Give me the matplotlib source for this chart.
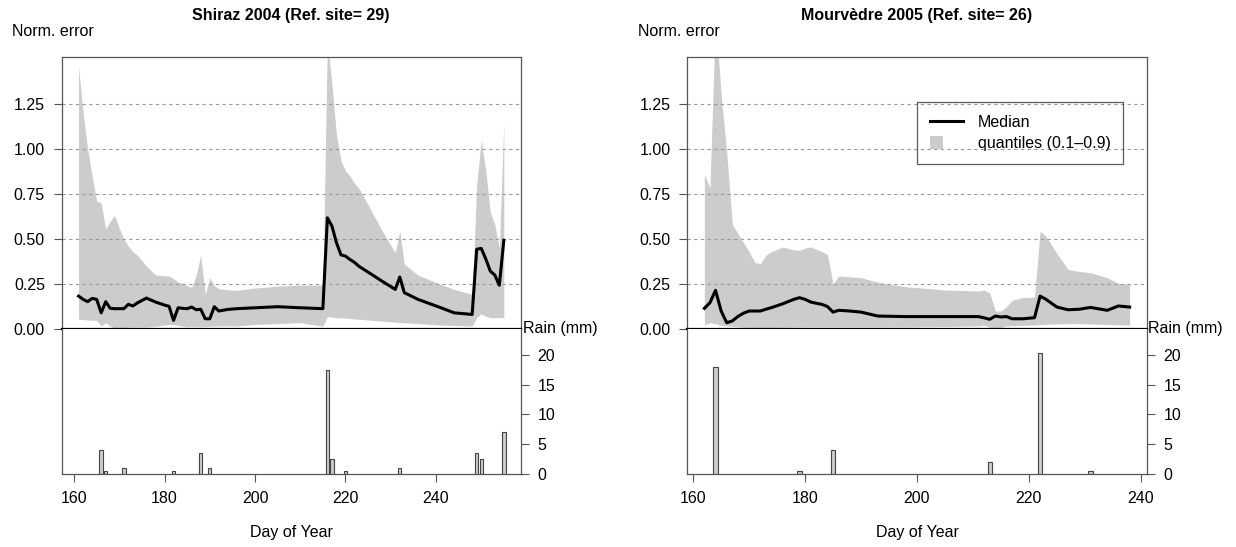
import matplotlib
matplotlib.use('Agg')
import matplotlib.pyplot as plt
from matplotlib.lines import Line2D
from matplotlib.patches import Rectangle
from matplotlib.legend_handler import HandlerPatch
import numpy as np

plt.rcParams['font.family'] = ['Liberation Sans', 'DejaVu Sans']
plt.rcParams['font.size'] = 11.5

# Shiraz 2004 - normalised error (median and 0.1-0.9 quantiles)
shirazDays = [161, 162, 163, 164, 165, 166, 167, 168, 169, 170, 171, 172, 173, 174, 176, 178,
              180, 181, 182, 183, 184, 185, 186, 187, 188, 189, 190, 191, 192, 194, 196, 200,
              205, 210, 215, 216, 217, 218, 219, 220, 221, 222, 223, 225, 228, 231, 232, 233,
              236, 241, 244, 248, 249, 250, 251, 252, 253, 254, 255]
shirazMedian = [0.183, 0.165, 0.152, 0.17, 0.165, 0.09, 0.152, 0.115, 0.113, 0.113, 0.113, 0.137,
                0.128, 0.145, 0.172, 0.15, 0.133, 0.126, 0.048, 0.118, 0.115, 0.113, 0.122, 0.107,
                0.11, 0.057, 0.057, 0.124, 0.1, 0.109, 0.113, 0.118, 0.124, 0.118, 0.113, 0.618,
                0.572, 0.48, 0.412, 0.405, 0.386, 0.37, 0.348, 0.316, 0.267, 0.22, 0.289, 0.202,
                0.165, 0.119, 0.09, 0.081, 0.443, 0.448, 0.39, 0.322, 0.30, 0.243, 0.493]
shirazUpper = [1.46, 1.2, 1.0, 0.85, 0.711, 0.70, 0.554, 0.6, 0.63, 0.56, 0.5, 0.46, 0.43, 0.41,
               0.35, 0.30, 0.296, 0.294, 0.28, 0.26, 0.255, 0.24, 0.23, 0.3, 0.411, 0.193, 0.285,
               0.24, 0.225, 0.218, 0.215, 0.228, 0.238, 0.244, 0.244, 1.6, 1.36, 1.08, 0.933, 0.88,
               0.85, 0.81, 0.78, 0.69, 0.55, 0.424, 0.544, 0.36, 0.30, 0.248, 0.22, 0.193, 0.8,
               1.048, 0.88, 0.65, 0.581, 0.45, 1.146]
shirazLower = [0.054, 0.052, 0.05, 0.049, 0.048, 0.017, 0.035, 0.015, 0.005, 0.006, 0.008, 0.01,
               0.01, 0.011, 0.011, 0.015, 0.022, 0.026, 0.024, 0.02, 0.016, 0.013, 0.013, 0.013,
               0.013, 0.014, 0.015, 0.016, 0.017, 0.017, 0.017, 0.025, 0.03, 0.035, 0.015, 0.069,
               0.066, 0.063, 0.063, 0.06, 0.058, 0.056, 0.054, 0.05, 0.044, 0.038, 0.036, 0.035,
               0.03, 0.022, 0.019, 0.017, 0.063, 0.085, 0.07, 0.063, 0.063, 0.063, 0.063]
shirazRainDays = [166, 167, 171, 182, 188, 190, 216, 217, 220, 232, 249, 250, 255]
shirazRain = [4.0, 0.5, 1.0, 0.5, 3.5, 1.0, 17.5, 2.5, 0.5, 1.0, 3.5, 2.5, 7.0]

# Mourvedre 2005
mourvDays = [162, 163, 164, 165, 166, 167, 168, 169, 170, 171, 172, 173, 174, 176, 178, 179,
             180, 181, 182, 183, 184, 185, 186, 188, 190, 193, 198, 205, 211, 212, 213, 214,
             215, 216, 217, 219, 221, 222, 223, 225, 227, 229, 231, 234, 236, 238]
mourvMedian = [0.115, 0.146, 0.215, 0.1, 0.035, 0.045, 0.07, 0.088, 0.1, 0.1, 0.1, 0.11, 0.119,
               0.14, 0.165, 0.174, 0.165, 0.15, 0.143, 0.137, 0.125, 0.094, 0.104, 0.1, 0.094,
               0.072, 0.069, 0.069, 0.069, 0.062, 0.054, 0.072, 0.067, 0.069, 0.057, 0.057, 0.063,
               0.183, 0.166, 0.122, 0.107, 0.11, 0.12, 0.104, 0.128, 0.122]
mourvUpper = [0.859, 0.785, 1.75, 1.3, 0.98, 0.58, 0.53, 0.48, 0.43, 0.37, 0.363, 0.41, 0.43,
              0.456, 0.44, 0.437, 0.45, 0.456, 0.443, 0.43, 0.415, 0.25, 0.294, 0.29, 0.285,
              0.26, 0.235, 0.217, 0.211, 0.216, 0.2, 0.1, 0.1, 0.125, 0.16, 0.175, 0.178, 0.544,
              0.517, 0.42, 0.331, 0.32, 0.313, 0.285, 0.254, 0.248]
mourvLower = [0.022, 0.035, 0.03, 0.02, 0.017, 0.015, 0.012, 0.01, 0.008, 0.008, 0.007, 0.007,
              0.008, 0.009, 0.01, 0.01, 0.011, 0.011, 0.011, 0.011, 0.011, 0.011, 0.011, 0.011,
              0.011, 0.011, 0.012, 0.014, 0.017, 0.02, 0.01, 0.002, 0.008, 0.017, 0.018, 0.02,
              0.022, 0.024, 0.026, 0.028, 0.03, 0.03, 0.028, 0.025, 0.023, 0.022]
mourvRainDays = [164, 179, 185, 213, 222, 231]
mourvRain = [18.0, 0.5, 4.0, 2.0, 20.3, 0.5]

errTicks = [0.0, 0.25, 0.5, 0.75, 1.0, 1.25]
rainTicks = [0, 5, 10, 15, 20]

boxColor = '#555555'
bandColor = '#cccccc'


def squarePatch(legend, orig_handle, xdescent, ydescent, width, height, fontsize):
    # small grey square at the left of the handle box, like R's pch=15
    s = 0.8 * fontsize
    return Rectangle((-xdescent, -ydescent + height / 2 - s / 2), s, s)


def drawPanel(fig, left, xlim, xticks, days, med, up, low, rainDays, rain, title, legend=False):
    width = 0.3716
    axTop = fig.add_axes([left, 0.3985, width, 0.4982])
    axBot = fig.add_axes([left, 0.1335, width, 0.2651], sharex=axTop)

    # Quantile band and median
    axTop.fill_between(days, low, up, color=bandColor, linewidth=0, zorder=1)
    axTop.plot(days, med, color='black', linewidth=2.2, zorder=3)
    for t in errTicks[1:]:
        axTop.axhline(t, color='#999999', linestyle=(0, (3, 3)), linewidth=0.8, zorder=2)
    axTop.set_xlim(xlim)
    axTop.set_ylim(0, 1.514)
    axTop.set_yticks(errTicks)
    axTop.set_yticklabels(['%.2f' % t for t in errTicks])
    axTop.tick_params(axis='y', direction='out', length=6, width=0.8, color=boxColor, pad=6)
    axTop.tick_params(axis='x', bottom=False, labelbottom=False)
    for s in ['left', 'top', 'right']:
        axTop.spines[s].set_color(boxColor)
        axTop.spines[s].set_linewidth(0.9)
    axTop.spines['bottom'].set_color('black')
    axTop.spines['bottom'].set_linewidth(1.6)
    axTop.spines['bottom'].set_zorder(5)
    axTop.set_title(title, fontweight='bold', fontsize=11.5, pad=26)

    # Rain bars on the lower part
    axBot.bar(rainDays, rain, width=0.75, color=bandColor, edgecolor='#444444', linewidth=0.8)
    axBot.set_ylim(0, 24.37)
    axBot.set_xticks(xticks)
    axBot.yaxis.tick_right()
    axBot.set_yticks(rainTicks)
    axBot.tick_params(axis='both', direction='out', length=6, width=0.8, color=boxColor)
    axBot.tick_params(axis='x', pad=6)
    axBot.tick_params(axis='y', pad=6)
    axBot.spines['top'].set_visible(False)
    for s in ['left', 'bottom', 'right']:
        axBot.spines[s].set_color(boxColor)
        axBot.spines[s].set_linewidth(0.9)
    axBot.set_xlabel('Day of Year', labelpad=14)
    axBot.text(1.004, 1.005, 'Rain (mm)', transform=axBot.transAxes, ha='left', va='center')
    axTop.text(-0.108, 1.09, 'Norm. error', transform=axTop.transAxes, ha='left', va='center')

    if legend:
        handles = [Line2D([], [], color='black', linewidth=2.2),
                   Rectangle((0, 0), 1, 1, facecolor=bandColor, edgecolor='none')]
        leg = axTop.legend(handles, ['Median', 'quantiles (0.1\u20130.9)'], loc='upper left',
                           bbox_to_anchor=(0.5, 0.833), borderaxespad=0, fancybox=False,
                           edgecolor='#333333', handlelength=2.1,
                           borderpad=0.8, labelspacing=0.4, handletextpad=0.9,
                           handler_map={Rectangle: HandlerPatch(patch_func=squarePatch)})
        leg.get_frame().set_facecolor('none')
        leg.get_frame().set_linewidth(0.9)
    return axTop, axBot


fig = plt.figure(figsize=(12.36, 5.47), dpi=100)
drawPanel(fig, 0.0498, (157.24, 258.76), [160, 180, 200, 220, 240],
          shirazDays, shirazMedian, shirazUpper, shirazLower,
          shirazRainDays, shirazRain, 'Shiraz 2004 (Ref. site= 29)')
drawPanel(fig, 0.5561, (158.96, 241.04), [160, 180, 200, 220, 240],
          mourvDays, mourvMedian, mourvUpper, mourvLower,
          mourvRainDays, mourvRain, 'Mourv\u00e8dre 2005 (Ref. site= 26)', legend=True)

fig.savefig('out.png', dpi=100)
